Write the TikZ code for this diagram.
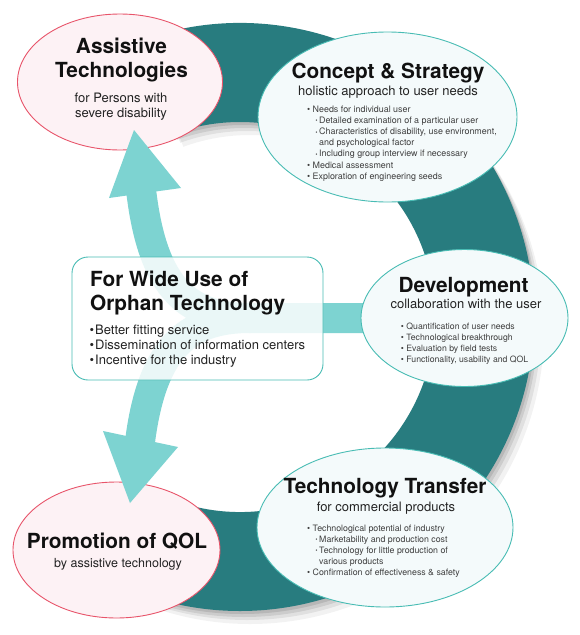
\documentclass[tikz,border=0pt]{standalone}
\usepackage{fontspec}
\setmainfont{TeX Gyre Heros}
\usetikzlibrary{shapes.geometric}
\definecolor{ringteal}{RGB}{40,124,127}
\definecolor{arrowcyan}{RGB}{125,211,209}
\definecolor{pinkfill}{RGB}{253,242,245}
\definecolor{pinkline}{RGB}{232,84,106}
\definecolor{bluefill}{RGB}{244,250,251}
\definecolor{blueline}{RGB}{72,188,180}
\definecolor{titleblack}{RGB}{17,17,17}
\definecolor{subgray}{RGB}{35,35,35}
\definecolor{smallgray}{RGB}{62,62,62}
\newcommand{\bl}[1]{\hbox{\makebox[5.5pt][l]{•}#1}}
\newcommand{\sbl}[1]{\hbox{\hspace{8.5pt}\makebox[3.5pt][l]{\raisebox{0.15ex}{\fontsize{5.5}{6}\selectfont •}}#1}}
\newcommand{\cbl}[1]{\hbox{\hspace{12pt}#1}}
\newcommand{\ctr}[2]{\vtop{\baselineskip=#1\halign{\hfil##\hfil\cr#2\crcr}}}
\begin{document}
\begin{tikzpicture}[x=1pt,y=-1pt,
  ttlstyle/.style={anchor=base, inner sep=0, font=\bfseries\fontsize{20.8}{24}\selectfont, text=titleblack},
  substyle/.style={anchor=base, inner sep=0, font=\fontsize{13}{15}\selectfont, text=subgray},
  smalltxt/.style={anchor=base west, inner sep=0, font=\fontsize{8.9}{11}\selectfont, text=smallgray},
  pinkell/.style={ellipse, draw=pinkline, fill=pinkfill, line width=0.9pt, inner sep=0},
  blueell/.style={ellipse, draw=blueline, fill=bluefill, line width=0.9pt, inner sep=0},
  armstroke/.style={draw=arrowcyan, line width=30pt},
  headfill/.style={fill=arrowcyan}]
\useasboundingbox (0,0) rectangle (579,635);
\fill[white] (0,0) rectangle (579,635);
% ring shadow
\foreach \dx/\dy/\op in {2/3/0.10,4/6/0.09,7/9/0.07,10/13/0.05}{
  \fill[black, opacity=\op, shift={(\dx,\dy)}] (240,317) ++(110:294pt) arc[start angle=110,end angle=-110,radius=294pt]
    -- (173.31,500.24) arc[start angle=-110,end angle=110,radius=195pt] -- cycle;
}
% ring
\fill[ringteal] (240,317) ++(110:294pt) arc[start angle=110,end angle=-110,radius=294pt]
    -- (173.31,500.24) arc[start angle=-110,end angle=110,radius=195pt] -- cycle;
% pink ellipses
\node[pinkell, minimum width=205pt, minimum height=136pt] (assist) at (120,82) {};
\node[pinkell, minimum width=207pt, minimum height=136pt] (promo) at (116.5,550) {};
% arrows
\coordinate (join) at (250,318);
\coordinate (devin) at (372,318);
\coordinate (uptip) at (134,130);
\coordinate (downtip) at (130,503);
\draw[armstroke] (devin) -- (join) .. controls (185,318) and (150,285) .. (140,180);
\draw[armstroke] (join) .. controls (185,318) and (150,350) .. (139,450);
\fill[headfill] (uptip) -- (109,198) -- (181,188) -- cycle;
\fill[headfill] (downtip) -- (103,431) -- (178,447) -- cycle;
% blue ellipses
\node[blueell, minimum width=259pt, minimum height=170pt] (concept) at (387.5,117) {};
\node[blueell, minimum width=207pt, minimum height=137pt] (devel) at (464.5,318) {};
\node[blueell, minimum width=256pt, minimum height=159pt] (transfer) at (385,527.5) {};
% central box
\draw[blueline, line width=0.9pt, fill=white, fill opacity=0.84, rounded corners=16pt] (72,257) rectangle (323,380);
% texts
\node[ttlstyle] (assistT) at (121.5,53) {\ctr{24pt}{Assistive\cr Technologies}};
\node[substyle] (assistS) at (121,102) {\ctr{15pt}{for Persons with\cr severe disability}};
\node[ttlstyle] (conceptT) at (388,78) {Concept \& Strategy};
\node[substyle] (conceptS) at (388,95.7) {holistic approach to user needs};
\node[smalltxt] (conceptB) at (307,112.5) {\vtop{\baselineskip=11.1pt
  \bl{Needs for individual user}
  \sbl{Detailed examination of a particular user}
  \sbl{Characteristics of disability, use environment,}
  \cbl{and psychological factor}
  \sbl{Including group interview if necessary}
  \bl{Medical assessment}
  \bl{Exploration of engineering seeds}}};
\node[ttlstyle] (develT) at (463.5,292) {Development};
\node[substyle] (develS) at (466,308) {collaboration with the user};
\node[smalltxt, font=\fontsize{8.7}{11}\selectfont] (develB) at (400.7,329) {\vtop{\baselineskip=11pt
  \bl{Quantification of user needs}
  \bl{Technological breakthrough}
  \bl{Evaluation by field tests}
  \bl{Functionality, usability and QOL}}};
\node[anchor=base west, inner sep=0, font=\bfseries\fontsize{20.8}{24}\selectfont, text=titleblack] (boxT) at (90,286) {\vtop{\baselineskip=24pt
  \hbox{For Wide Use of}\hbox{Orphan Technology}}};
\node[anchor=base west, inner sep=0, font=\fontsize{13}{15}\selectfont, text=subgray] (boxB) at (89.5,334) {\vtop{\baselineskip=15pt
  \hbox{\makebox[5.5pt][l]{•}Better fitting service}
  \hbox{\makebox[5.5pt][l]{•}Dissemination of information centers}
  \hbox{\makebox[5.5pt][l]{•}Incentive for the industry}}};
\node[ttlstyle] (transT) at (385,493) {Technology Transfer};
\node[substyle] (transS) at (386,511) {for commercial products};
\node[smalltxt, font=\fontsize{8.8}{11}\selectfont] (transB) at (307,531) {\vtop{\baselineskip=11pt
  \bl{Technological potential of industry}
  \sbl{Marketability and production cost}
  \sbl{Technology for little production of}
  \cbl{various products}
  \bl{Confirmation of effectiveness \& safety}}};
\node[ttlstyle] (promoT) at (117,548) {Promotion of QOL};
\node[substyle, font=\fontsize{12.5}{15}\selectfont] (promoS) at (118,567) {by assistive technology};
\end{tikzpicture}
\end{document}
